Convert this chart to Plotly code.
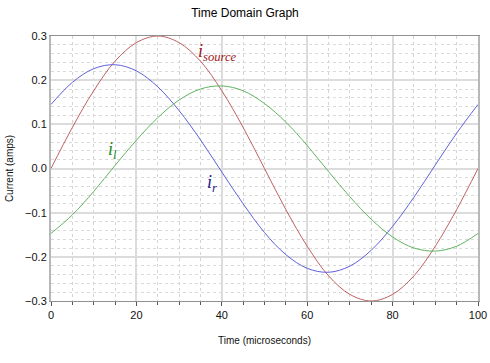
import plotly.graph_objects as go

# Time samples (microseconds)
time_us = [0, 5, 10, 15, 20, 25, 30, 35, 40, 45, 50, 55, 60, 65, 70, 75, 80, 85, 90, 95, 100]

# Currents (amps)
i_source = [0.000, 0.093, 0.176, 0.243, 0.285, 0.300, 0.285, 0.243, 0.176, 0.093, 0.000,
            -0.093, -0.176, -0.243, -0.285, -0.300, -0.285, -0.243, -0.176, -0.093, 0.000]
i_r = [0.145, 0.195, 0.226, 0.235, 0.221, 0.185, 0.131, 0.065, -0.008, -0.080, -0.145,
       -0.195, -0.226, -0.235, -0.221, -0.185, -0.131, -0.065, 0.008, 0.080, 0.145]
i_l = [-0.147, -0.105, -0.052, 0.007, 0.064, 0.115, 0.155, 0.180, 0.187, 0.176, 0.147,
       0.105, 0.052, -0.007, -0.064, -0.115, -0.155, -0.180, -0.187, -0.176, -0.147]

x_ticks = [0, 20, 40, 60, 80, 100]
y_ticks = [-0.3, -0.2, -0.1, 0.0, 0.1, 0.2, 0.3]

fig = go.Figure()
fig.add_trace(go.Scatter(x=time_us, y=i_source, mode="lines", line=dict(color="#c06060", width=1, shape="spline"), name="i_source"))
fig.add_trace(go.Scatter(x=time_us, y=i_r, mode="lines", line=dict(color="#6060dc", width=1, shape="spline"), name="i_r"))
fig.add_trace(go.Scatter(x=time_us, y=i_l, mode="lines", line=dict(color="#60b460", width=1, shape="spline"), name="i_l"))

lab_font = dict(family="Liberation Serif, DejaVu Serif, serif", size=18)
fig.add_annotation(x=39.0, y=0.262, text="<i>i<sub>source</sub></i>", showarrow=False,
                   font=dict(lab_font, color="#a01818"))
fig.add_annotation(x=14.3, y=0.040, text="<i>i<sub>l</sub></i>", showarrow=False,
                   font=dict(lab_font, color="#1e8a1e"))
fig.add_annotation(x=37.6, y=-0.034, text="<i>i<sub>r</sub></i>", showarrow=False,
                   font=dict(lab_font, color="#20208a"))

fig.update_layout(
    width=490, height=363,
    margin=dict(l=51, r=12, t=36, b=62),
    paper_bgcolor="white", plot_bgcolor="white",
    showlegend=False,
    font=dict(family="Liberation Sans, Arial, sans-serif", size=11, color="#111111"),
    title=dict(text="Time Domain Graph", x=0.5, xanchor="center", y=0.975, yanchor="top",
               font=dict(size=12, color="#000000")),
)
fig.update_xaxes(
    range=[0, 100], tickvals=x_ticks, ticks="outside", ticklen=4, tickcolor="#555555",
    tickfont=dict(size=11),
    showgrid=True, gridcolor="#dcdcdc", gridwidth=2,
    minor=dict(dtick=5, showgrid=True, gridcolor="#d4d4d4", griddash="dot", gridwidth=1,
               ticks="outside", ticklen=3, tickcolor="#555555"),
    showline=True, linecolor="#909090", linewidth=1, mirror=True, zeroline=False,
    title=dict(text="Time (microseconds)", standoff=16, font=dict(size=10)),
    automargin=False, fixedrange=True,
)
fig.update_yaxes(
    range=[-0.3, 0.3], tickvals=y_ticks, tickformat=".1f", ticks="",
    tickfont=dict(size=11),
    showgrid=True, gridcolor="#dcdcdc", gridwidth=2,
    minor=dict(dtick=0.02, tick0=0, showgrid=True, gridcolor="#dadada", griddash="dot", gridwidth=1),
    showline=True, linecolor="#b8b8b8", linewidth=2, mirror=True, zeroline=False,
    title=dict(text="Current (amps)", standoff=10, font=dict(size=10)),
    automargin=False, fixedrange=True,
)

# remove the page's default body margin so the figure fills the window exactly
fig.write_html("out.html", config={"displayModeBar": False},
               post_script="document.body.style.margin='0';document.body.style.overflow='hidden';")
